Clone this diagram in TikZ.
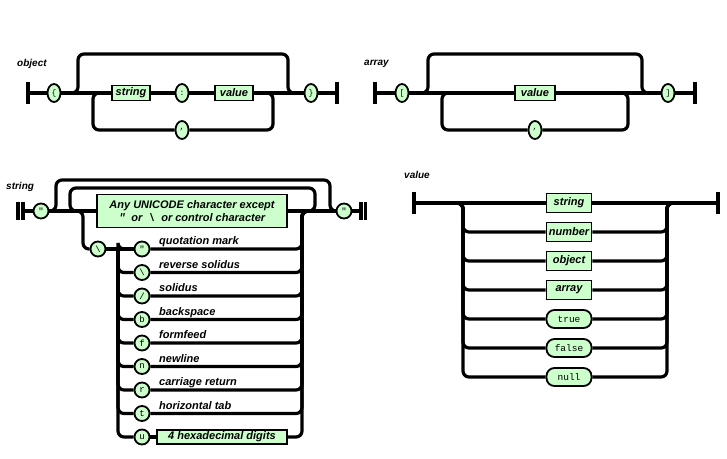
\documentclass[tikz,border=0pt]{standalone}
\usepackage{fontspec}
\setmainfont{Liberation Sans}
\setmonofont{Liberation Mono}
\usetikzlibrary{shapes.geometric}
\definecolor{railfill}{RGB}{204,255,204}
\tikzset{
  rail/.style={line width=3.2pt, rounded corners=6pt},
  endbar/.style={line width=3.2pt},
  nonterm/.style={draw, line width=1.8pt, fill=railfill, inner sep=0pt,
    minimum height=15pt, font=\bfseries\itshape\fontsize{11}{13}\selectfont},
  term/.style={draw, ellipse, line width=1.8pt, fill=railfill, inner sep=0pt,
    minimum width=13pt, minimum height=18pt, font=\ttfamily\fontsize{8}{8}\selectfont},
  esc/.style={term, minimum width=15pt, minimum height=15pt, font=\ttfamily\fontsize{9}{9}\selectfont},
  keyword/.style={draw, line width=1.8pt, fill=railfill, rounded corners=8pt, inner sep=0pt,
    minimum width=45pt, minimum height=18pt, font=\ttfamily\fontsize{9.5}{10}\selectfont},
  title/.style={anchor=west, inner sep=0pt, font=\bfseries\itshape\fontsize{10}{12}\selectfont},
  escname/.style={anchor=base west, inner sep=0pt, font=\bfseries\itshape\fontsize{11}{12}\selectfont}
}
\begin{document}
\begin{tikzpicture}[x=1pt, y=-1pt]
\useasboundingbox (0,0) rectangle (727,458);

% object
\node[title] (tObj) at (17,64) {object};
\coordinate (oS) at (28,93);
\coordinate (oE) at (337,93);
\node[term] (oLb) at (54,93) {\{};
\node[nonterm, minimum width=38pt] (oStr) at (131,93) {string};
\node[term] (oCol) at (182,93) {:};
\node[nonterm, minimum width=38pt] (oVal) at (234,93) {value};
\node[term] (oCom) at (182,130) {,};
\node[term] (oRb) at (311,93) {\}};
\coordinate (oJa) at (70,93);  \coordinate (oTa) at (78,54);
\coordinate (oTb) at (288,54); \coordinate (oJb) at (298,93);
\coordinate (oRa) at (263,93); \coordinate (oRd) at (273,130);
\coordinate (oLd) at (93,130); \coordinate (oLa) at (103,93);
\draw[endbar] (oS) ++(0,-11) -- ++(0,22);
\draw[endbar] (oE) ++(0,-11) -- ++(0,22);
\draw[rail] (oS) -- (oLb) -- (oStr) -- (oCol) -- (oVal) -- (oRb) -- (oE);
\draw[rail] (oJa) -| (oTa) -- (oTb) |- (oJb);
\draw[rail] (oRa) -| (oRd) -- (oCom) -- (oLd) |- (oLa);

% array
\node[title] (tArr) at (364,64) {array};
\coordinate (aS) at (375,93);
\coordinate (aE) at (695,93);
\node[term] (aLb) at (402,93) {[};
\node[nonterm, minimum width=40pt] (aVal) at (535,93) {value};
\node[term] (aCom) at (535,130) {,};
\node[term] (aRb) at (668,93) {]};
\coordinate (aJa) at (420,93);  \coordinate (aTa) at (428,54);
\coordinate (aTb) at (642,54);  \coordinate (aJb) at (652,93);
\coordinate (aRa) at (618,93);  \coordinate (aRd) at (628,130);
\coordinate (aLd) at (442,130); \coordinate (aLa) at (452,93);
\draw[endbar] (aS) ++(0,-11) -- ++(0,22);
\draw[endbar] (aE) ++(0,-11) -- ++(0,22);
\draw[rail] (aS) -- (aLb) -- (aVal) -- (aRb) -- (aE);
\draw[rail] (aJa) -| (aTa) -- (aTb) |- (aJb);
\draw[rail] (aRa) -| (aRd) -- (aCom) -- (aLd) |- (aLa);

% string
\node[title] (tStr) at (6,187) {string};
\coordinate (sS) at (23,211);
\coordinate (sE) at (361,211);
\node[esc] (sQa) at (41,211) {"};
\node[nonterm, align=center, minimum width=190pt, minimum height=33pt] (sChr) at (192,211)
  {Any UNICODE character except\\{\ttfamily"}\ \ or\ \ {\ttfamily\textbackslash}\ \ or control character};
\node[esc] (sQb) at (344,211) {"};
\coordinate (sOa) at (56,180);  \coordinate (sOb) at (330,180);
\coordinate (sRa) at (305,211); \coordinate (sRt) at (315,188);
\coordinate (sLt) at (70,188);  \coordinate (sLa) at (80,211);
\coordinate (sXa) at (76,211);  \coordinate (sXd) at (83,249);
\coordinate (sV) at (118,249);
\coordinate (sW) at (302,211);  \coordinate (sWe) at (312,211);
\draw[endbar] (sS) ++(-5,-9) -- ++(0,18);
\draw[endbar] (sS) ++(0,-9) -- ++(0,18);
\draw[endbar] (sE) ++(0,-9) -- ++(0,18);
\draw[endbar] (sE) ++(4.5,-9) -- ++(0,18);
\draw[rail] (sS) -- (sQa) -- (sChr) -- (sQb) -- (sE);
\draw[rail] (sQa) -| (sOa) -- (sOb) |- (sQb);
\draw[rail] (sRa) -| (sRt) -- (sLt) |- (sLa);
\node[esc] (sBs) at (98,249) {\textbackslash};
\draw[rail] (sXa) -| (sXd) -- (sBs);
\foreach \c/\t [count=\i from 0] in {"/quotation mark, \textbackslash/reverse solidus,
    {/}/solidus, b/backspace, f/formfeed, n/newline, r/carriage return, t/horizontal tab}{
  \node[esc] (sE\i) at (142,249+23.5*\i) {\c};
  \node[escname] (sN\i) at (159,244.5+23.5*\i) {\t};
  \draw[rail] (sV) |- (sE\i);
  \draw[rail] (sE\i) -| (sW) -- (sWe);
}
\node[esc] (sE8) at (142,437) {u};
\node[nonterm, minimum width=130pt, minimum height=14pt] (sHex) at (222,437) {4 hexadecimal digits};
\draw[rail] (sBs) -- (sE0);
\draw[rail] (sV) |- (sE8);
\draw[rail] (sE8) -- (sHex);
\draw[rail] (sHex) -| (sW) -- (sWe);

% value
\node[title] (tVal) at (404,175) {value};
\coordinate (vS) at (414,203);  \coordinate (vE) at (718,203);
\coordinate (vJL) at (453,203); \coordinate (vCL) at (463,203);
\coordinate (vCR) at (667,203); \coordinate (vJR) at (677,203);
\foreach \n [count=\i from 0] in {string,number,object,array}
  \node[nonterm, minimum width=45pt, minimum height=19pt] (v\i) at (569,203+29*\i) {\n};
\foreach \n [count=\i from 4] in {true,false,null}
  \node[keyword] (v\i) at (569,203+29*\i) {\n};
\draw[endbar] (vS) ++(0,-11) -- ++(0,22);
\draw[endbar] (vE) ++(0,-11) -- ++(0,22);
\draw[rail] (vS) -- (v0) -- (vE);
\foreach \i in {1,...,6}
  \draw[rail] (vJL) -| (vCL |- v\i) -- (v\i) -- (vCR |- v\i) |- (vJR);
\end{tikzpicture}
\end{document}
